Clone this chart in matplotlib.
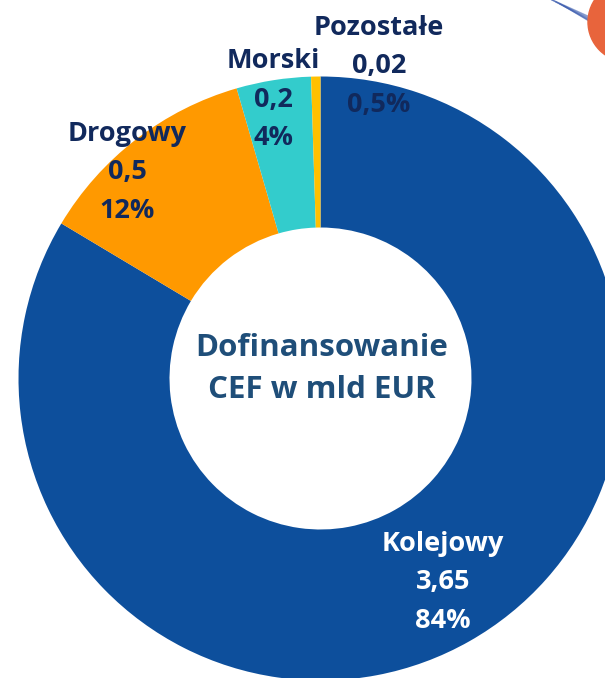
import matplotlib
matplotlib.use("Agg")
import matplotlib.pyplot as plt
from matplotlib.patches import Circle

# ---- data ----
categories = ["Kolejowy", "Drogowy", "Morski", "Pozostałe"]
amounts = ["3,65", "0,5", "0,2", "0,02"]          # mld EUR (as labelled)
shares = [84, 12, 4, 0.5]                          # % of CEF co-financing
share_labels = ["84%", "12%", "4%", "0,5%"]
center_title = "Dofinansowanie\nCEF w mld EUR"

# ---- style ----
colors = ["#0D4F9C", "#FF9900", "#33CCCC", "#FFC000"]
label_colors = ["white", "#11295C", "#11295C", "#11295C"]
W, H = 605, 678
cx, cy = 320.5, 378.5          # pixel coords (from top)
R_out, ring = 302, 151
# label anchor (pixel coords from top) for the three lines of each label
label_pos = [(443, 544), (127, 134), (273, 61), (379, 28)]
line_gap = 38.5

plt.rcParams['font.family'] = ['Open Sans', 'DejaVu Sans']

fig = plt.figure(figsize=(W / 100, H / 100), dpi=100)
ax = fig.add_axes([0, 0, 1, 1])

ax.pie(shares, colors=colors, startangle=90, counterclock=False,
       radius=R_out, center=(cx, H - cy),
       wedgeprops=dict(width=ring, linewidth=0))
ax.set_xlim(0, W)
ax.set_ylim(0, H)
ax.set_aspect('equal')
ax.axis('off')

for name, amt, pct, (x, y), c in zip(categories, amounts, share_labels, label_pos, label_colors):
    for i, t in enumerate([name, amt, pct]):
        ax.text(x, H - (y + i * line_gap), t, ha='center', va='center',
                fontsize=19.5, fontweight='bold', color=c)

ax.text(cx + 1, H - 369, center_title, ha='center', va='center',
        fontsize=22.5, fontweight='bold', color="#1F4E79", linespacing=1.5)

# cropped decorative logo in the top-right corner
ax.add_patch(Circle((628, H - 22), 40, color="#E8643C", zorder=5))
for k in range(5):
    ax.plot([548 + k * 4, 592 + k * 3], [H + 2 - k * 2, H - 18 - k * 3],
            color="#3F5FB0", lw=1.0, alpha=0.6, zorder=4)

fig.savefig("out.png", dpi=100)
